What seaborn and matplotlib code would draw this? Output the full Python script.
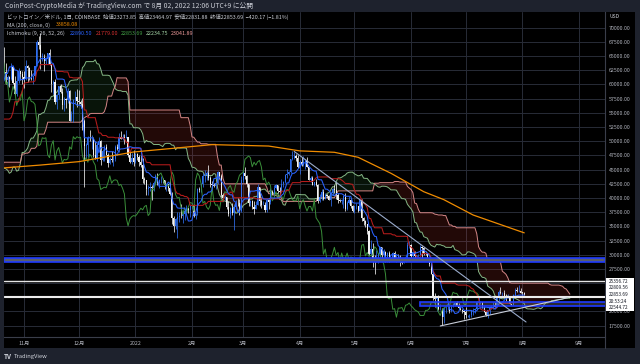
import numpy as np
import pandas as pd
import matplotlib
matplotlib.use("Agg")
import matplotlib.pyplot as plt
import matplotlib.dates as mdates
from matplotlib.patches import Rectangle
from matplotlib.lines import Line2D
import seaborn as sns

# BTC/USD daily (Coinbase), thousands of USD, starting 2021-08-01
close_k = [
    39.9, 39.2, 38.2, 39.7, 40.9, 42.8, 44.6, 43.8, 46.3, 45.6, 45.6, 44.4, 47.8, 47.1, 47.0, 45.9,
    44.7, 44.6, 46.8, 49.3, 48.9, 49.3, 49.5, 47.7, 48.9, 47.0, 49.0, 48.9, 48.8, 46.9, 47.2,
    48.8, 49.3, 50.0, 49.9, 51.8, 52.7, 46.8, 46.1, 46.4, 44.8, 45.2, 46.1, 44.9, 47.1, 48.1,
    47.8, 47.3, 48.3, 47.2, 43.0, 40.7, 43.6, 44.9, 42.8, 42.7, 43.2, 42.2, 41.0, 41.5, 43.8,
    48.1, 47.7, 48.2, 49.2, 51.5, 55.3, 53.8, 53.9, 55.0, 54.7, 57.5, 56.0, 57.4, 57.4, 61.7, 60.9,
    61.5, 62.0, 64.3, 65.9, 62.2, 60.7, 61.3, 60.9, 63.1, 60.3, 58.4, 60.6, 62.3, 61.9, 61.3,
    61.0, 63.2, 62.9, 61.4, 61.0, 61.5, 63.3, 67.5, 66.9, 64.9, 64.9, 64.1, 64.4, 65.5, 63.6,
    60.1, 60.4, 56.9, 58.1, 59.7, 58.7, 56.3, 57.5, 57.2, 58.9, 53.6, 54.8, 57.3, 57.8, 57.0,
    56.9, 56.5, 53.6, 49.2, 49.4, 50.6, 50.5, 50.6, 47.6, 47.1, 49.3, 50.1, 46.7, 48.3, 48.9, 47.6,
    46.2, 46.8, 46.7, 46.9, 49.0, 48.6, 50.8, 50.4, 50.8, 50.6, 50.7, 47.5, 46.4, 47.1, 46.3,
    47.7, 47.3, 46.4, 45.8, 43.4, 43.1, 41.5, 41.7, 41.9, 41.8, 42.7, 43.9, 42.6, 43.1, 43.2, 43.1,
    42.2, 42.4, 41.7, 40.7, 36.5, 35.1, 36.3, 36.7, 36.9, 36.8, 37.2, 37.7, 38.2, 37.9, 38.5,
    38.7, 36.9, 37.3, 41.6, 41.4, 42.4, 43.8, 44.1, 44.4, 43.6, 42.4, 42.2, 42.1, 42.6,
    44.6, 43.9, 40.6, 40.0, 40.1, 38.4, 37.1, 38.3, 37.3, 38.4, 39.2, 39.1, 37.7, 43.2,
    44.4, 43.9, 42.5, 39.1, 39.4, 38.4, 38.0, 38.7, 41.9, 39.4, 38.7, 38.8, 37.8, 39.7, 39.3, 41.1,
    40.9, 41.8, 42.2, 41.3, 41.0, 42.4, 42.9, 44.0, 44.3, 44.5, 46.8, 47.1, 47.4, 47.1, 45.5,
    46.3, 45.8, 46.4, 46.6, 45.5, 43.2, 43.5, 42.3, 42.8, 42.2, 39.5, 40.1, 41.1, 39.9, 40.5,
    40.4, 39.7, 40.8, 41.5, 41.4, 40.5, 39.7, 39.5, 39.5, 40.4, 38.1, 39.2, 39.7, 38.6, 37.7,
    38.5, 38.5, 37.7, 39.7, 36.5, 36.0, 35.5, 34.1, 30.1, 31.0, 29.0, 28.9, 29.3, 30.1, 31.3, 29.9,
    30.4, 28.7, 30.3, 29.2, 29.4, 30.3, 29.1, 29.6, 29.5, 29.2, 28.6, 29.0, 29.4, 31.7, 31.8,
    29.8, 30.4, 29.7, 29.9, 29.9, 31.4, 31.1, 30.2, 30.1, 29.1, 28.4, 26.6, 22.5, 22.2, 22.6,
    20.4, 20.5, 19.0, 20.6, 20.6, 20.7, 20.0, 21.1, 21.2, 21.5, 21.0, 20.7, 20.3, 20.1, 19.9,
    19.3, 19.3, 19.3, 20.2, 20.2, 20.5, 21.6, 21.6, 21.6, 20.8, 19.9, 19.3, 20.2, 20.6, 20.8, 21.2,
    20.8, 22.4, 23.4, 23.2, 23.2, 22.7, 22.5, 22.6, 21.3, 21.2, 22.9, 23.8, 23.6, 23.6, 23.3,
    23.27385, 22.85369,
]
high_k = [
    42.6, 40.5, 39.8, 39.9, 41.4, 43.4, 44.7, 45.3, 46.4, 46.7, 46.7, 46.2, 47.9, 48.1, 47.4, 48.0,
    47.1, 46.0, 47.0, 49.3, 49.8, 49.5, 50.5, 49.8, 49.3, 49.3, 49.1, 49.3, 49.6, 48.9, 48.2,
    48.9, 50.4, 51.0, 50.5, 51.9, 52.8, 52.9, 47.3, 47.3, 47.0, 45.9, 46.4, 46.6, 47.2, 48.4,
    48.5, 48.1, 48.8, 48.3, 47.3, 43.5, 44.0, 44.9, 45.1, 42.9, 43.9, 44.3, 42.8, 42.6, 44.1,
    48.4, 48.3, 49.2, 49.5, 51.9, 55.8, 55.3, 56.1, 55.5, 56.5, 57.8, 57.6, 57.7, 58.5, 62.8, 62.2,
    61.7, 62.6, 64.5, 67.0, 66.6, 63.7, 61.7, 61.5, 63.7, 63.3, 61.5, 62.5, 62.9, 62.3, 62.4,
    62.4, 64.3, 63.5, 63.1, 62.6, 61.6, 63.3, 67.8, 68.5, 69.0, 65.6, 65.4, 64.9, 65.6, 66.3,
    63.6, 60.8, 60.9, 58.4, 59.8, 60.0, 59.3, 57.8, 57.6, 59.4, 59.1, 55.3, 57.4, 58.9, 59.2,
    59.0, 57.3, 57.6, 53.9, 49.7, 50.9, 51.9, 51.1, 50.7, 50.1, 49.4, 50.8, 50.3, 48.6, 49.4, 49.5,
    47.9, 47.3, 48.3, 47.5, 49.3, 49.5, 51.4, 51.8, 51.2, 51.3, 52.0, 50.7, 48.1, 47.9, 48.5,
    47.9, 47.9, 47.5, 47.5, 47.0, 43.7, 43.1, 42.3, 42.8, 42.2, 43.0, 44.3, 44.4, 43.4, 43.8, 43.5,
    43.2, 42.7, 42.5, 43.4, 41.1, 36.8, 36.4, 37.5, 37.5, 38.9, 37.4, 38.0, 38.7, 38.3, 38.7,
    39.2, 38.9, 37.4, 41.7, 42.0, 42.6, 44.4, 45.0, 44.8, 45.8, 43.9, 43.0, 42.7, 42.8,
    44.7, 44.6, 44.2, 40.9, 40.5, 40.1, 39.5, 38.4, 39.2, 38.9, 39.7, 40.0, 39.8, 43.8,
    44.9, 45.4, 44.1, 42.5, 39.6, 39.6, 39.5, 39.4, 42.4, 42.0, 40.2, 39.4, 39.3, 39.9, 39.9, 41.7,
    41.4, 42.3, 42.4, 42.3, 42.0, 43.3, 43.0, 44.3, 45.1, 44.8, 46.9, 48.2, 48.1, 47.7, 47.6,
    46.7, 47.2, 47.4, 46.9, 47.2, 45.5, 43.9, 43.9, 42.8, 43.4, 42.4, 40.7, 41.5, 41.5, 40.8,
    40.7, 40.6, 41.1, 41.7, 42.2, 42.9, 40.8, 39.9, 39.9, 40.6, 40.8, 39.5, 40.4, 39.9, 38.8,
    38.6, 39.1, 38.6, 39.9, 39.8, 36.6, 36.1, 35.5, 34.3, 32.6, 32.0, 30.0, 30.9, 30.3, 31.4, 31.3,
    31.0, 30.7, 30.5, 30.7, 29.6, 30.4, 30.6, 29.9, 30.2, 29.9, 29.3, 29.2, 29.5, 32.2, 32.4,
    31.9, 30.6, 30.7, 29.9, 30.2, 31.7, 31.5, 31.3, 30.6, 30.3, 29.4, 28.5, 26.9, 23.3, 22.7,
    22.9, 21.3, 20.7, 20.8, 21.0, 21.7, 20.9, 21.2, 21.5, 21.6, 21.8, 21.5, 21.2, 20.4, 20.2,
    20.8, 19.4, 19.6, 20.3, 20.7, 20.6, 21.8, 22.5, 21.9, 21.6, 20.9, 20.1, 20.3, 20.9, 21.2, 21.6,
    21.7, 22.7, 23.8, 24.3, 23.4, 23.8, 23.0, 23.0, 22.7, 21.3, 23.1, 24.2, 24.4, 24.67, 24.2,
    23.5, 23.46497,
]
low_k = [
    39.4, 38.7, 37.6, 37.5, 37.4, 39.9, 42.5, 43.3, 42.9, 45.0, 45.4, 43.8, 44.2, 45.7, 45.5, 45.7,
    44.4, 44.3, 43.9, 46.7, 48.3, 48.1, 49.0, 47.6, 47.1, 46.4, 46.4, 48.5, 48.0, 46.9, 46.8,
    46.9, 48.7, 48.6, 49.6, 49.5, 50.9, 43.0, 44.4, 45.5, 44.2, 44.8, 44.7, 43.4, 44.8, 46.7,
    47.1, 46.8, 47.1, 46.9, 42.6, 39.7, 40.6, 43.0, 40.9, 41.7, 40.8, 42.1, 40.9, 40.8, 41.4,
    43.3, 47.4, 47.2, 46.9, 49.1, 50.4, 53.4, 53.6, 53.7, 54.1, 54.5, 53.9, 54.2, 56.8, 56.9, 60.3,
    59.2, 60.2, 61.7, 63.5, 62.0, 60.1, 59.7, 59.6, 60.7, 60.1, 58.1, 58.0, 60.2, 60.7, 60.0,
    59.4, 60.7, 60.4, 60.7, 60.7, 60.1, 61.4, 63.3, 66.3, 62.8, 64.1, 62.3, 63.6, 63.6, 63.4,
    58.6, 58.4, 56.5, 55.6, 57.4, 58.5, 55.6, 55.4, 55.8, 56.7, 53.5, 53.7, 53.3, 56.7, 56.0,
    56.5, 55.8, 52.0, 42.0, 47.1, 47.3, 50.0, 48.6, 47.3, 46.9, 46.6, 48.7, 45.8, 46.5, 46.6, 47.5,
    45.5, 45.9, 46.4, 45.6, 46.6, 48.5, 48.1, 50.4, 50.2, 49.5, 50.5, 47.3, 46.1, 45.9, 45.7,
    46.2, 46.7, 45.7, 45.5, 42.6, 42.5, 40.6, 40.5, 41.2, 39.7, 41.3, 42.5, 42.3, 41.8, 42.6, 42.6,
    41.6, 41.3, 41.2, 40.6, 35.5, 34.0, 34.6, 33.0, 35.8, 36.4, 35.6, 36.2, 37.4, 37.4, 36.6,
    38.1, 36.6, 36.3, 37.0, 41.0, 41.1, 42.0, 42.8, 43.2, 43.2, 42.0, 41.8, 41.9, 41.6,
    42.4, 43.4, 40.1, 39.4, 39.6, 38.0, 36.8, 36.4, 37.0, 34.3, 38.0, 38.6, 37.0, 37.5,
    42.9, 43.4, 41.9, 38.6, 38.6, 38.1, 37.2, 38.0, 38.7, 38.6, 38.2, 38.7, 37.6, 37.6, 38.1, 38.9,
    40.5, 40.2, 41.5, 40.9, 40.5, 41.0, 41.9, 42.6, 43.6, 44.1, 44.4, 46.7, 46.9, 46.6, 45.2,
    44.2, 45.6, 45.6, 45.1, 45.4, 43.1, 42.8, 42.2, 42.1, 42.1, 39.2, 39.3, 39.6, 39.6, 39.8,
    40.0, 39.6, 38.6, 40.6, 40.9, 39.8, 39.2, 39.3, 39.0, 38.2, 37.7, 37.9, 38.9, 38.2, 37.6,
    37.4, 38.1, 37.5, 37.7, 35.9, 35.3, 34.8, 33.7, 30.0, 29.8, 27.8, 26.6, 28.7, 28.6, 29.5, 29.1,
    29.5, 28.7, 28.7, 28.8, 28.9, 29.3, 28.9, 28.7, 29.3, 28.0, 28.3, 28.5, 28.8, 29.3, 31.2,
    29.4, 29.6, 29.4, 29.5, 29.5, 29.9, 29.2, 29.9, 29.9, 28.9, 28.1, 26.6, 22.0, 20.8, 20.1,
    20.3, 20.2, 17.6, 17.9, 19.7, 20.3, 19.8, 19.9, 20.8, 20.9, 21.0, 20.5, 20.2, 19.8, 18.6,
    18.9, 19.0, 18.8, 19.1, 19.3, 19.8, 20.3, 21.2, 21.3, 20.7, 19.9, 19.2, 18.89, 19.6, 20.4, 20.5,
    20.8, 20.8, 21.6, 23.0, 22.4, 22.5, 21.9, 22.3, 21.3, 21.11, 21.15, 22.6, 23.4, 23.5, 23.2,
    22.9, 22.83188,
]

# 200-day MA
ma_dates = ["2021-10-21", "2021-11-10", "2021-12-01", "2021-12-31", "2022-01-25", "2022-02-12",
            "2022-03-15", "2022-04-01", "2022-04-20", "2022-05-03", "2022-05-21", "2022-06-08",
            "2022-06-19", "2022-07-05", "2022-08-02"]
ma_values = [45300, 45800, 46400, 48100, 48850, 49400, 49150, 48300, 48050, 47170, 44350, 41100,
             39700, 37000, 33858.08]

# author's drawings
trend_down = (["2022-03-29", "2022-08-03"], [48200, 18150])
trend_up = (["2022-06-17", "2022-08-26"], [17450, 22430])
blue_band = (28650, 29400)
white_level = 25356.72
white_band = (22544.72, 22809.56)
blue_box = ("2022-06-06", 20970, 21620)

month_ticks = ["2021-11-01", "2021-12-01", "2022-01-01", "2022-02-01", "2022-03-01", "2022-04-01",
               "2022-05-01", "2022-06-01", "2022-07-01", "2022-08-01", "2022-09-01"]
month_labels = ["11月", "12月", "2022", "2月", "3月", "4月", "5月", "6月", "7月", "8月", "9月"]

right_labels = ["25356.72", "22809.56", "22853.69", "20:53:24", "22544.72"]
right_label_y = [281.3, 287.8, 294.6, 301.2, 307.6]

sns.set_theme(style="dark")
JP = ["Noto Sans CJK JP", "DejaVu Sans"]
plt.rcParams["font.family"] = JP

UP, DOWN = "#2f6ff0", "#f2f2f2"
GRID = "#282c37"
TXT = "#c9ccd4"
W, H = 640, 364

dates = pd.date_range("2021-08-01", periods=len(close_k), freq="D")
df = pd.DataFrame({"close": np.array(close_k) * 1000, "high": np.array(high_k) * 1000,
                   "low": np.array(low_k) * 1000}, index=dates)
df["open"] = df["close"].shift(1).fillna(df["close"])
df["high"] = df[["high", "open", "close"]].max(axis=1)
df["low"] = df[["low", "open", "close"]].min(axis=1)

# ichimoku (9, 26, 52, 26)
def mid(n):
    return (df["high"].rolling(n).max() + df["low"].rolling(n).min()) / 2

ext = pd.date_range(dates[0], dates[-1] + pd.Timedelta(days=25), freq="D")
tenkan = mid(9)
kijun = mid(26)
span_a = ((tenkan + kijun) / 2).reindex(ext).shift(25)
span_b = mid(52).reindex(ext).shift(25)

d2n = lambda s: mdates.date2num(pd.to_datetime(s))
xn = d2n(dates)
xe = d2n(ext)

fig = plt.figure(figsize=(6.4, 3.64), dpi=100, facecolor="#1e222d")
fig.patches.append(Rectangle((4 / W, 1 - 348 / H), 631 / W, 336 / H, transform=fig.transFigure,
                             facecolor="black", edgecolor="none", zorder=-5))
ax = fig.add_axes([4 / W, 1 - 337 / H, 601 / W, 325 / H], facecolor="black")

# cloud
a, b = span_a.values, span_b.values
ok = ~np.isnan(a) & ~np.isnan(b)
ax.fill_between(xe, a, b, where=ok & (a >= b), color="#43a047", alpha=0.13, lw=0, interpolate=True, zorder=1)
ax.fill_between(xe, a, b, where=ok & (a < b), color="#f44336", alpha=0.14, lw=0, interpolate=True, zorder=1)

# candles
up = df["close"] >= df["open"]
cols = np.where(up, UP, DOWN)
ax.vlines(xn, df["low"], df["high"], colors=cols, lw=0.55, zorder=3)
body = (df["close"] - df["open"]).abs().clip(lower=80)
ax.bar(xn, body, bottom=np.minimum(df["open"], df["close"]), width=0.62, color=cols, lw=0, zorder=3)

# indicator lines
sns.lineplot(x=xe, y=span_a.values, ax=ax, color="#86b886", lw=0.7, zorder=2)
sns.lineplot(x=xe, y=span_b.values, ax=ax, color="#d48686", lw=0.7, zorder=2)
sns.lineplot(x=xn - 25, y=df["close"].values, ax=ax, color="#3a8f3a", lw=0.7, zorder=4)
sns.lineplot(x=xn, y=kijun.values, ax=ax, color="#b71c1c", lw=0.75, zorder=4)
sns.lineplot(x=xn, y=tenkan.values, ax=ax, color="#2962ff", lw=0.75, zorder=4)
sns.lineplot(x=d2n(ma_dates), y=ma_values, ax=ax, color="#f08c00", lw=0.9, zorder=4)

# drawings
ax.axhspan(*blue_band, facecolor="#5b5f6b", edgecolor="#1f3bff", lw=1.2, zorder=6)
ax.axhline(white_level, color="#e6e6e6", lw=1.0, zorder=6)
ax.axhspan(*white_band, facecolor="#4a4d56", edgecolor="#ececec", lw=0.8, zorder=6)
bx0 = d2n(blue_box[0])
ax.add_patch(Rectangle((bx0, blue_box[1]), 400, blue_box[2] - blue_box[1], facecolor=(0.45, 0.47, 0.55, 0.35),
                       edgecolor="#1f3bff", lw=1.2, zorder=6))
ax.plot(d2n(trend_down[0]), trend_down[1], color="#9aaccc", lw=0.8, zorder=7)
ax.plot(d2n(trend_up[0]), trend_up[1], color="#c9ced9", lw=0.8, zorder=7)

# axes
x0 = d2n("2021-11-01")
ax.set_xlim(x0 - 10.955, x0 + 318.24)
ax.set_ylim(15507, 72766)
yt = np.arange(17500, 70001, 2500)
ax.set_yticks(yt)
# 22500 and 25000 sit under the price-label block
ax.set_yticklabels(["" if v in (22500, 25000) else f"{v:.2f}" for v in yt])
ax.yaxis.tick_right()
ax.set_xticks(d2n(month_ticks))
ax.set_xticklabels(month_labels)
ax.tick_params(axis="y", length=0, pad=2.6, labelsize=3.8, labelcolor="#b2b5be")
ax.tick_params(axis="x", length=0, pad=2.8, labelsize=3.8, labelcolor="#b2b5be")
ax.grid(True, color=GRID, lw=0.7)
ax.set_axisbelow(True)
for s in ["top", "left"]:
    ax.spines[s].set_visible(False)
for s in ["right", "bottom"]:
    ax.spines[s].set_color("#3a3e4a")
    ax.spines[s].set_linewidth(0.8)
ax.set_xlabel("")
ax.set_ylabel("")
fig.lines.append(Line2D([605 / W, 605 / W], [1 - 337 / H, 1 - 348 / H], transform=fig.transFigure,
                        color="#3a3e4a", lw=0.8))

def ftxt(px, py, s, **kw):
    kw.setdefault("fontsize", 3.9)
    kw.setdefault("color", TXT)
    fig.text(px / W, 1 - py / H, s, va="center", ha="left", **kw)

# header and legend
ftxt(5, 6, "CoinPost-CryptoMedia が TradingView.com で 8月 02, 2022 12:06 UTC+9 に公開", fontsize=4.9)
ftxt(7, 16.7, "ビットコイン／米ドル, 1日, COINBASE  始値23273.85  高値23464.97  安値22831.88  終値22853.69  −420.17 (−1.81%)")
ftxt(7, 24.8, "MA (200, close, 0)")
ftxt(56, 24.8, "33858.08", color="#f08c00")
ftxt(7, 33.2, "Ichimoku (9, 26, 52, 26)")
for px, s, c in [(70, "22890.50", "#2962ff"), (96, "21779.00", "#d32f2f"), (121, "22853.69", "#43a047"),
                 (146, "22234.75", "#a5d6a7"), (171, "23041.89", "#ef9a9a")]:
    ftxt(px, 33.2, s, color=c)

# price axis extras
ftxt(609, 17, "USD", fontsize=3.6)
fig.patches.append(Rectangle((606 / W, 1 - 310.6 / H), 28 / W, 32.6 / H, transform=fig.transFigure,
                             facecolor="white", edgecolor="none", zorder=5))
for s, py in zip(right_labels, right_label_y):
    ftxt(609, py, s, color="#131722", fontsize=3.4, zorder=6)

# footer logo
ftxt(4, 356.8, "TV", fontsize=4.6, fontweight="bold", color="#d1d4dc")
ftxt(14, 356.8, "TradingView", fontsize=4.2, color="#d1d4dc")

fig.savefig("out.png", dpi=100, facecolor=fig.get_facecolor())
